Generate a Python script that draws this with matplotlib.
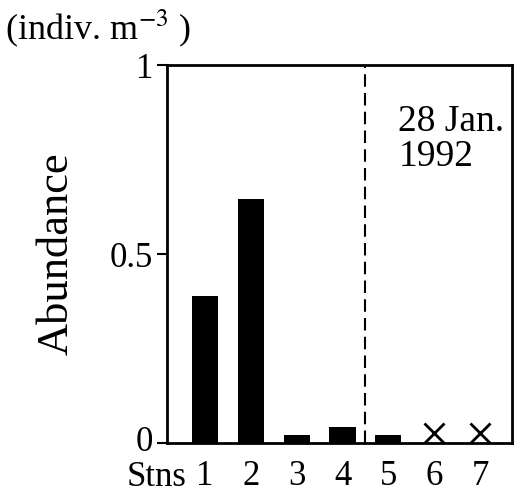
import matplotlib.pyplot as plt
from matplotlib.transforms import ScaledTranslation

# station abundance, 28 Jan 1992
stations = [1, 2, 3, 4, 5]
abundance = [0.39, 0.645, 0.021, 0.043, 0.021]
absent_stations = [6, 7]
absent_marker_y = [0.027, 0.027]
tick_labels = ["1", "2", "3", "4", "5", "6", "7"]

plt.rcParams['font.family'] = ['Liberation Serif', 'DejaVu Serif']
plt.rcParams['mathtext.fontset'] = 'stix'

fig = plt.figure(figsize=(5.2, 4.94), dpi=100)
ax = fig.add_axes([0.321, 0.103, 0.664, 0.765])

ax.bar(stations, abundance, width=0.57, color='black')
ax.plot(absent_stations, absent_marker_y, 'x', color='black', markersize=14, mew=2)
ax.axvline(4.5, color='black', linestyle=(0, (6, 3)), linewidth=1.5)

ax.set_xlim(0.17, 7.7)
ax.set_ylim(0, 1)
ax.set_xticks(range(1, 8))
ax.set_xticklabels(tick_labels)
ax.set_yticks([0, 0.5, 1])
ax.set_yticklabels(["0", "0.5", "1"])
ax.tick_params(axis='x', length=0, labelsize=25, pad=12)
ax.tick_params(axis='y', length=7, width=1.5, labelsize=25, pad=3)
for s in ax.spines.values():
    s.set_linewidth(2)

# nudge the "0" label up a little so it clears "Stns"
zero_lbl = ax.get_yticklabels()[0]
zero_lbl.set_transform(zero_lbl.get_transform() + ScaledTranslation(0, 3 / 72, fig.dpi_scale_trans))

ax.annotate("Stns", xy=(0.6, 0), xycoords=ax.get_xaxis_transform(),
            xytext=(0, -13), textcoords='offset points',
            ha='right', va='top', fontsize=25, annotation_clip=False)
ax.set_ylabel("Abundance", fontsize=32, labelpad=24)
fig.text(0.01, 0.985, r"(indiv. m$^{\mathrm{-3}}$ )", ha='left', va='top', fontsize=26)
ax.text(0.67, 0.895, "28 Jan.\n1992", transform=ax.transAxes,
        ha='left', va='top', fontsize=27, linespacing=1.0)

fig.savefig("out.png", dpi=100)
